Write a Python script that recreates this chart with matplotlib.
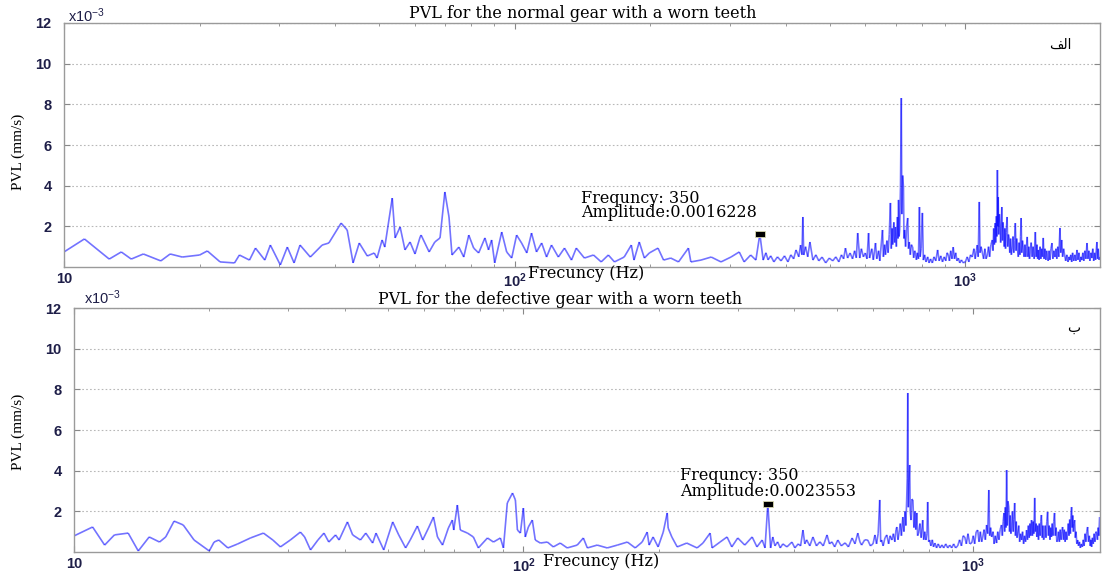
import matplotlib
matplotlib.use("Agg")
import matplotlib.pyplot as plt
import numpy as np
from matplotlib.collections import LineCollection
from matplotlib.path import Path
from matplotlib.ticker import FixedLocator, FixedFormatter, LogLocator, NullFormatter

OUTPUT = "out.png"
LINE_RGBA = (0.0, 0.0, 1.0, 0.55)
TICK_COLOR = "#1e1e48"

# PVL spectrum, normal gear (amplitude in 1e-3 mm/s)
f_normal = [10, 11.1, 12.6, 13.4, 14.1, 15.0, 16.4, 17.2, 18.3, 20.0, 20.8, 22.2, 23.9, 24.5, 25.8,
            26.6, 27.9, 28.7, 30.2, 31.3, 32.4, 33.4, 35.2, 37.4, 38.7, 41.2, 42.5, 43.8, 45.2, 47.1,
            48.8, 49.5, 50.8, 51.5, 53.5, 54.3, 55.7, 57.1, 58.6, 60.1, 61.7, 62.0, 64.6, 66.5, 68.3,
            70.0, 71.5, 72.6, 75.2, 77.1, 79.1, 81.1, 83.2, 85.9, 87.5, 88.9, 90.3, 93.6, 96.0, 98.5,
            101, 103.6, 106.4, 109, 111.8, 114.8, 117.7, 120.7, 125, 129, 133.7, 137, 142.8, 149.6, 155.6,
            161.4, 166.5, 175, 181.5, 184, 189, 194, 199, 208, 214, 222, 231, 243, 246,
            259, 273, 287, 302, 315, 323, 334, 343, 350,
            356, 361, 365, 370, 376, 383, 390, 397, 404, 410, 416, 421, 427, 431, 434, 436, 438, 442, 447,
            452, 459, 466, 473, 481, 490, 499, 508, 516, 524, 531, 537, 542, 548, 555, 562, 568, 573, 577,
            583, 588, 594, 600, 605,
            610, 613, 620, 625, 632, 636, 642, 646, 655, 658, 662, 665, 670, 674, 678, 682, 685, 688, 690,
            694, 697, 700, 703, 707, 709, 711, 713, 715, 718, 721, 723, 726, 729, 731, 733, 737, 741, 745,
            748, 751, 755, 759, 764, 768, 772, 775, 779, 783, 787, 791, 794, 798, 803, 807, 812, 818, 825,
            831, 837, 845, 852, 860, 868, 875, 882, 890, 898, 905, 911, 917, 922, 928, 934, 940, 946, 952,
            958, 965, 972, 980, 990, 1000, 1010, 1018, 1027, 1036, 1045, 1052, 1058, 1063, 1068, 1074, 1078,
            1084, 1091, 1098, 1105, 1112, 1119, 1126, 1132, 1140, 1148, 1152, 1156, 1160, 1165, 1168, 1172,
            1175, 1178, 1181, 1183, 1186, 1190, 1194, 1198, 1201, 1205, 1209, 1212, 1216, 1220, 1224, 1228,
            1232, 1238, 1242, 1246, 1250, 1255, 1260, 1265, 1271, 1276, 1281, 1286, 1291, 1296, 1300, 1305,
            1311, 1316, 1322, 1326, 1330, 1334, 1339, 1344, 1350, 1356, 1362, 1367, 1372, 1377, 1383, 1388,
            1393, 1400, 1407, 1414, 1422, 1430, 1436, 1442, 1447, 1452, 1458, 1465, 1471, 1477, 1483, 1489,
            1495, 1502, 1509, 1515, 1520, 1527, 1534, 1541, 1549, 1557, 1564, 1572, 1581, 1589, 1596, 1604,
            1612, 1622, 1628, 1636, 1644, 1652, 1661, 1670, 1680, 1690, 1698, 1706, 1714, 1722, 1730, 1740,
            1750, 1760, 1769, 1778, 1787, 1796, 1805, 1814, 1823, 1832, 1842, 1852, 1862, 1871, 1880, 1890,
            1900, 1909, 1918, 1927, 1936, 1945, 1952, 1959, 1965, 1972, 1980, 1990]
a_normal = [0.74, 1.38, 0.39, 0.74, 0.39, 0.64, 0.30, 0.64, 0.49, 0.59, 0.79, 0.25, 0.20, 0.59, 0.34,
            0.93, 0.34, 1.08, 0.10, 0.98, 0.20, 1.08, 0.49, 1.08, 1.18, 2.16, 1.82, 0.20, 1.18, 0.54,
            0.69, 0.44, 1.33, 0.98, 3.39, 1.43, 1.97, 0.84, 1.23, 0.64, 1.48, 1.57, 0.74, 1.23, 1.43,
            3.69, 2.46, 0.59, 0.98, 0.49, 1.57, 0.93, 0.69, 1.43, 0.84, 1.33, 0.20, 1.72, 0.74, 0.44,
            1.57, 1.18, 0.69, 1.67, 0.74, 1.18, 0.49, 1.08, 0.49, 0.93, 0.34, 0.93, 0.44, 0.59, 0.25,
            0.59, 0.25, 0.49, 1.08, 0.34, 1.23, 0.44, 0.69, 0.93, 0.34, 0.44, 0.25, 0.93, 0.25,
            0.34, 0.49, 0.25, 0.49, 0.74, 0.25, 0.59, 0.34, 1.62,
            0.34, 0.7, 0.35, 0.55, 0.25, 0.5, 0.3, 0.55, 0.25, 0.6, 0.4, 0.84, 0.5, 1.08, 0.6, 2.46, 0.59, 1.0, 0.5,
            1.23, 0.34, 0.6, 0.3, 0.49, 0.2, 0.44, 0.3, 0.5, 0.25, 0.6, 0.4, 0.93, 0.44, 0.69, 0.4, 0.8, 0.45, 1.67,
            0.44, 0.9, 0.5, 0.69, 0.4,
            1.67, 0.44, 0.9, 0.35, 1.18, 0.4, 0.8, 0.3, 1.82, 0.5, 1.1, 0.6, 1.3, 0.7, 1.6, 3.15, 0.9, 1.9, 1.1,
            2.2, 1.2, 1.97, 1.0, 2.46, 1.4, 3.30, 1.5, 1.82, 3.9, 8.31, 2.6, 4.5, 3.93, 1.4, 1.82, 1.0, 2.0, 2.41,
            0.9, 1.23, 0.6, 1.1, 0.98, 0.45, 0.8, 0.69, 0.35, 0.7, 0.4, 2.95, 0.5, 0.9, 2.66, 0.34, 0.6, 0.25, 0.5,
            0.2, 0.4, 0.2, 0.5, 0.3, 0.84, 0.3, 0.55, 0.25, 0.5, 0.3, 0.7, 0.59, 0.3, 0.8, 0.4, 0.98, 0.4, 0.7,
            0.3, 0.44, 0.2, 0.35, 0.2, 0.25, 0.5, 0.25, 0.6, 0.49, 0.9, 0.4, 0.8, 1.08, 0.5, 3.20, 0.7,
            1.0, 0.69, 0.4, 0.9, 0.4, 0.59, 1.0, 0.5, 1.1, 1.33, 0.8, 1.9, 1.1, 2.16, 1.2, 2.5,
            1.5, 4.77, 2.0, 3.44, 1.6, 2.6, 2.16, 1.2, 2.0, 2.95, 1.3, 2.2, 1.82, 1.0, 1.9, 0.9,
            1.7, 2.46, 1.0, 1.6, 1.48, 0.7, 1.4, 0.6, 0.98, 1.5, 0.7, 1.3, 2.16, 0.8, 1.4, 0.93,
            0.5, 1.2, 0.6, 1.5, 2.41, 0.7, 1.3, 0.98, 0.5, 1.1, 0.5, 1.0, 1.48, 0.5, 1.0, 0.4,
            0.69, 1.2, 0.5, 1.0, 0.4, 1.72, 0.5, 1.1, 0.4, 0.84, 0.35, 1.0, 0.4, 0.9, 0.5, 1.43,
            0.4, 0.9, 0.35, 0.8, 0.59, 0.3, 0.8, 0.35, 0.9, 1.18, 0.4, 0.8, 0.49, 0.9, 0.4, 1.0,
            0.5, 1.92, 0.7, 1.33, 0.5, 0.9, 0.59, 0.3, 0.6, 0.25, 0.5, 0.34, 0.6, 0.25, 0.7, 0.3,
            0.6, 0.3, 0.84, 0.35, 0.7, 0.25, 0.5, 0.34, 0.7, 0.3, 0.8, 0.4, 1.18, 0.4, 0.8, 0.3,
            0.7, 0.44, 0.9, 0.3, 0.7, 0.35, 0.8, 1.23, 0.4, 0.9, 0.35, 0.49]

# PVL spectrum, defective gear (amplitude in 1e-3 mm/s)
f_defect = [10, 11.0, 11.7, 12.3, 13.2, 13.9, 14.7, 15.5, 16.0, 16.7, 17.5, 18.5, 20.0, 20.5, 21.0,
            22.0, 23.1, 24.7, 26.4, 27.7, 28.8, 30.3, 31.9, 32.6, 33.6, 34.9, 36.0, 36.9, 38.2, 38.9,
            40.6, 41.7, 43.4, 44.6, 46.2, 47.0, 48.9, 51.2, 52.8, 54.7, 56.0, 58.1, 59.7, 61.5, 63.1,
            64.4, 66.1, 68.1, 69.5, 70.0, 71.3, 72.4, 75.1, 77.4, 79.4, 83.2, 85.8, 88.9, 90.3, 92.1,
            94.6, 96.0, 97.0, 98.5, 100, 101, 102.6, 104.7, 106.3, 109.1, 113.1, 116.6, 120.8, 125.2, 131.8,
            136, 138.8, 146, 153.7, 161.9, 170.4, 177.4, 183.8, 188.6, 190.5, 194.4, 199.5, 204.8, 209, 210,
            214, 220, 231, 243.6, 251, 260.4, 263, 274, 284, 291, 300, 311, 323, 331, 340,
            345, 350, 355, 359, 363, 368, 373, 378, 386, 396, 402, 409, 414, 419, 423, 427, 434, 441, 449,
            457, 465, 474, 480, 486, 493, 501, 510, 520, 529, 539, 547, 555, 561, 566, 575, 584, 592,
            600, 606, 611, 616, 621, 624, 627, 632, 638, 644, 650, 655, 661, 666, 671, 675, 678, 682, 686,
            690, 694, 699, 703, 707, 710, 713, 715, 717, 719, 721, 724, 726, 729, 732, 736, 740, 744, 747,
            751, 754, 758, 763, 768, 774, 778, 782, 787, 791, 794, 798, 802, 807, 813, 818, 824, 831, 838,
            846, 854, 862, 871, 880, 889, 898, 907, 916, 926, 935, 944, 952, 960, 968, 976, 985, 995, 1003,
            1010, 1018, 1026, 1033, 1040, 1047, 1053, 1060, 1067, 1074, 1080, 1086, 1091, 1096, 1102, 1110,
            1116, 1123, 1130, 1137, 1144, 1151, 1159, 1164, 1169, 1174, 1178, 1182, 1186, 1190, 1194, 1198,
            1203, 1208, 1212, 1216, 1221, 1226, 1231, 1235, 1240, 1245, 1250, 1255, 1260, 1266, 1272, 1278,
            1285, 1291, 1298, 1304, 1311, 1318, 1324, 1330, 1336, 1341, 1346, 1352, 1358, 1363, 1368, 1374,
            1379, 1384, 1389, 1395, 1401, 1407, 1413, 1418, 1422, 1428, 1433, 1438, 1444, 1450, 1456, 1462,
            1468, 1474, 1480, 1486, 1491, 1497, 1503, 1509, 1515, 1521, 1527, 1533, 1539, 1545, 1552, 1559,
            1566, 1573, 1579, 1585, 1592, 1599, 1606, 1613, 1620, 1626, 1632, 1638, 1644, 1650, 1655, 1660,
            1665, 1670, 1675, 1680, 1686, 1692, 1698, 1705, 1712, 1720, 1728, 1736, 1745, 1754, 1762, 1770,
            1778, 1786, 1794, 1802, 1810, 1818, 1826, 1833, 1839, 1847, 1855, 1863, 1871, 1880, 1888, 1895,
            1902, 1909, 1916]
a_defect = [0.79, 1.23, 0.34, 0.84, 0.93, 0.05, 0.74, 0.49, 0.74, 1.52, 1.33, 0.59, 0.05, 0.49, 0.59,
            0.20, 0.39, 0.69, 0.93, 0.59, 0.25, 0.59, 0.98, 0.74, 0.10, 0.59, 0.93, 0.49, 0.84, 0.59,
            1.48, 0.84, 0.59, 0.93, 0.44, 0.93, 0.10, 1.48, 0.84, 0.20, 0.59, 1.28, 0.59, 1.18, 1.72,
            0.74, 0.34, 1.18, 1.57, 1.08, 2.31, 1.08, 0.93, 0.74, 0.20, 0.69, 0.49, 0.69, 0.20, 2.41,
            2.90, 2.56, 1.08, 0.93, 2.16, 0.74, 1.23, 1.57, 0.59, 0.44, 0.49, 0.25, 0.44, 0.20, 0.34,
            0.69, 0.20, 0.34, 0.20, 0.34, 0.49, 0.20, 0.49, 0.98, 0.34, 0.74, 0.25, 0.98, 1.92, 1.18,
            0.74, 0.25, 0.44, 0.20, 0.44, 0.93, 0.20, 0.49, 0.74, 0.25, 0.69, 0.34, 0.74, 0.25, 0.59,
            0.20, 2.36, 0.20, 0.74, 0.3, 0.5, 0.2, 0.4, 0.25, 0.49, 0.2, 0.4, 0.3, 1.08, 0.4, 0.6, 0.3, 0.74, 0.3,
            0.5, 0.3, 0.84, 0.4, 0.5, 0.25, 0.59, 0.3, 0.45, 0.25, 0.69, 0.4, 0.93, 0.5, 0.34, 0.6, 0.59, 0.3,
            0.4, 0.84, 0.4, 0.9, 2.56, 0.5, 0.59, 0.3, 0.7, 0.84, 0.4, 0.8, 0.59, 0.9, 0.5, 1.1, 1.23, 0.6, 0.98,
            1.4, 0.8, 1.72, 1.0, 2.0, 1.3, 2.56, 3.6, 7.82, 2.2, 3.4, 4.28, 2.0, 1.57, 2.6, 2.56, 1.2, 2.0, 1.1,
            1.92, 0.8, 0.93, 1.4, 0.7, 1.57, 0.6, 1.0, 0.59, 0.9, 2.46, 0.5, 0.59, 0.3, 0.6, 0.25, 0.44, 0.2, 0.4,
            0.2, 0.35, 0.2, 0.4, 0.2, 0.34, 0.2, 0.4, 0.2, 0.3, 0.6, 0.3, 0.8, 0.74, 0.4, 0.9, 0.4, 0.44, 0.8,
            0.4, 1.0, 1.08, 0.5, 1.0, 0.5, 0.74, 1.1, 0.6, 1.33, 0.9, 3.05, 0.8, 1.2, 0.74, 1.0,
            0.4, 0.8, 0.44, 1.0, 0.6, 1.1, 1.33, 0.8, 1.5, 1.92, 1.0, 2.2, 1.2, 4.03, 1.3, 2.5,
            2.21, 1.0, 1.8, 0.9, 1.23, 2.0, 1.0, 1.6, 2.41, 0.8, 1.5, 0.7, 0.93, 1.3, 0.5, 0.9,
            0.59, 1.0, 0.4, 0.8, 0.5, 1.08, 0.6, 1.3, 0.7, 1.4, 0.8, 1.57, 0.8, 1.5, 0.9, 2.66,
            1.0, 1.4, 0.74, 1.3, 0.6, 1.4, 0.8, 1.5, 1.82, 0.7, 1.3, 0.6, 0.74, 1.3, 0.7, 1.5,
            1.97, 0.8, 1.3, 0.6, 1.2, 0.74, 1.4, 0.8, 1.5, 1.92, 0.8, 1.2, 0.5, 0.59, 1.0, 0.5,
            1.1, 0.6, 1.0, 1.23, 0.6, 1.1, 0.5, 1.0, 0.6, 0.93, 1.4, 0.8, 1.6, 0.9, 1.8, 2.21,
            1.2, 1.8, 1.0, 1.4, 1.57, 0.7, 1.0, 0.4, 0.59, 0.3, 0.5, 0.2, 0.4, 0.25, 0.6, 0.3,
            0.9, 0.5, 1.0, 1.23, 0.5, 0.8, 0.3, 0.6, 0.25, 0.7, 0.4, 0.9, 0.5, 1.0, 0.93, 0.6,
            1.2, 0.8, 1.72]

marker_f = [350, 350]
marker_a = [1.6228, 2.3553]
titles = ["PVL for the normal gear with a worn teeth", "PVL for the defective gear with a worn teeth"]
tags = ["\ufed2\ufedf\ufe8d", "\ufe8f"]
yticks = [2, 4, 6, 8, 10, 12]

bar_marker = Path([(-1, -0.5), (1, -0.5), (1, 0.5), (-1, 0.5), (-1, -0.5)])


def style_axes(ax, xmax):
    ax.set_xscale("log")
    ax.set_xlim(10, xmax)
    ax.set_ylim(0, 12)
    ax.yaxis.set_major_locator(FixedLocator(yticks))
    ax.set_yticklabels([str(t) for t in yticks])
    ax.xaxis.set_major_locator(FixedLocator([10, 100, 1000]))
    ax.xaxis.set_major_formatter(FixedFormatter(["10", r"$\mathregular{10^2}$", r"$\mathregular{10^3}$"]))
    ax.xaxis.set_minor_locator(LogLocator(base=10, subs=np.arange(2, 10)))
    ax.xaxis.set_minor_formatter(NullFormatter())
    ax.tick_params(which="both", direction="in", top=True, right=True, color="#888888",
                   labelsize=10.5, labelcolor=TICK_COLOR)
    ax.tick_params(which="major", length=4)
    ax.tick_params(which="minor", length=2)
    ax.tick_params(axis="y", pad=9)
    for lab in ax.get_xticklabels() + ax.get_yticklabels():
        lab.set_fontfamily("Liberation Sans")
        lab.set_fontweight("bold")
    ax.yaxis.grid(True, linestyle=(0, (1.5, 2)), color="#b8b8b8", lw=0.8)
    for sp in ax.spines.values():
        sp.set_color("#9a9a9a")
        sp.set_linewidth(1.0)


fig = plt.figure(figsize=(11.06, 5.74), dpi=100)
ax1 = fig.add_axes([64 / 1106, 1 - 267 / 574, 1036 / 1106, 244 / 574])
ax2 = fig.add_axes([74 / 1106, 1 - 552 / 574, 1026 / 1106, 244 / 574])

panels = [
    (ax1, f_normal, a_normal, 1990, 0),
    (ax2, f_defect, a_defect, 1920, 1),
]
for ax, f, a, xmax, i in panels:
    pts = np.column_stack([f, a])
    segs = np.stack([pts[:-1], pts[1:]], axis=1)
    ax.add_collection(LineCollection(segs, colors=[LINE_RGBA], linewidths=1.2, capstyle="butt"))
    ax.plot([marker_f[i]], [marker_a[i]], marker=bar_marker, color="black", ms=7.5, mec="#d8d8b0",
            mew=0.6, ls="none", zorder=5)
    style_axes(ax, xmax)

serif = "DejaVu Serif"
# titles, labels and annotations
fig.text(583 / 1106, 1 - 14 / 574, titles[0], ha="center", va="center", fontsize=11.5, family=serif)
fig.text(560 / 1106, 1 - 299 / 574, titles[1], ha="center", va="center", fontsize=11.5, family=serif)
fig.text(68 / 1106, 1 - 16 / 574, r"$\mathregular{x10^{-3}}$", ha="left", va="center", fontsize=10.5,
         family="Liberation Sans", color=TICK_COLOR)
fig.text(84 / 1106, 1 - 298 / 574, r"$\mathregular{x10^{-3}}$", ha="left", va="center", fontsize=10.5,
         family="Liberation Sans", color=TICK_COLOR)
fig.text(18 / 1106, 1 - 152 / 574, "PVL (mm/s)", rotation=90, ha="center", va="center", fontsize=11,
         family="Liberation Serif")
fig.text(18 / 1106, 1 - 432 / 574, "PVL (mm/s)", rotation=90, ha="center", va="center", fontsize=11,
         family="Liberation Serif")
fig.text(528 / 1106, 1 - 273 / 574, "Frecuncy (Hz)", ha="left", va="center", fontsize=11.5, family=serif)
fig.text(543 / 1106, 1 - 562 / 574, "Frecuncy (Hz)", ha="left", va="center", fontsize=11.5, family=serif)
fig.text(581 / 1106, 1 - 198 / 574, "Frequncy: 350", ha="left", va="center", fontsize=11.5, family=serif)
fig.text(581 / 1106, 1 - 213 / 574, "Amplitude:0.0016228", ha="left", va="center", fontsize=11.5, family=serif)
fig.text(680 / 1106, 1 - 476 / 574, "Frequncy: 350", ha="left", va="center", fontsize=11.5, family=serif)
fig.text(680 / 1106, 1 - 491 / 574, "Amplitude:0.0023553", ha="left", va="center", fontsize=11.5, family=serif)
fig.text(1072 / 1106, 1 - 45 / 574, tags[0], ha="right", va="center", fontsize=10, family="DejaVu Sans")
fig.text(1080 / 1106, 1 - 328 / 574, tags[1], ha="right", va="center", fontsize=10, family="DejaVu Sans")

fig.savefig(OUTPUT, dpi=100, facecolor="white")
plt.close(fig)
